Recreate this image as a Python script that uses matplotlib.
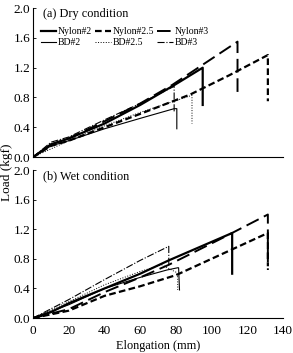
import matplotlib.pyplot as plt
import numpy as np

plt.rcParams['font.family'] = 'serif'
plt.rcParams['font.serif'] = ['Liberation Serif', 'DejaVu Serif']

# (a) dry condition: elongation (mm) and load (kgf)
dry_nylon2_x = [0, 10, 20, 40, 60, 80, 95, 95]
dry_nylon2_y = [0, 0.17, 0.25, 0.45, 0.7, 0.98, 1.2, 0.7]
dry_nylon25_x = [0, 10, 20, 40, 60, 88, 110, 131.5, 131.5]
dry_nylon25_y = [0, 0.15, 0.22, 0.4, 0.58, 0.84, 1.1, 1.37, 0.75]
dry_nylon3_x = [0, 10, 20, 40, 60, 78, 114.5, 114.5]
dry_nylon3_y = [0, 0.17, 0.25, 0.48, 0.72, 0.97, 1.55, 0.85]
dry_bd2_x = [0, 10, 20, 40, 60, 79, 80.5, 80.5]
dry_bd2_y = [0, 0.15, 0.22, 0.38, 0.52, 0.65, 0.65, 0.38]
dry_bd25_x = [0, 20, 40, 60, 89, 89]
dry_bd25_y = [0, 0.22, 0.42, 0.6, 0.83, 0.45]
dry_bd3_x = [0, 10, 20, 40, 60, 79, 79]
dry_bd3_y = [0, 0.2, 0.27, 0.5, 0.72, 0.95, 0.6]

# (b) wet condition
wet_nylon2_x = [0, 10, 20, 40, 60, 76, 111.5, 111.5]
wet_nylon2_y = [0, 0.08, 0.2, 0.4, 0.6, 0.78, 1.15, 0.6]
wet_nylon25_x = [0, 20, 40, 60, 80, 131.5, 131.5]
wet_nylon25_y = [0, 0.1, 0.3, 0.43, 0.58, 1.15, 0.7]
wet_nylon3_x = [0, 20, 40, 60, 76, 105, 131.5, 131.5]
wet_nylon3_y = [0, 0.12, 0.35, 0.55, 0.72, 1.07, 1.4, 0.65]
wet_bd2_x = [0, 20, 40, 60, 75, 81, 81.5, 82]
wet_bd2_y = [0, 0.18, 0.4, 0.55, 0.65, 0.68, 0.68, 0.38]
wet_bd25_x = [0, 20, 40, 60, 72, 80, 81, 81]
wet_bd25_y = [0, 0.22, 0.45, 0.63, 0.72, 0.62, 0.55, 0.38]
wet_bd3_x = [0, 20, 40, 60, 76, 76]
wet_bd3_y = [0, 0.25, 0.52, 0.78, 0.97, 0.72]

labels = ["Nylon#2", "Nylon#2.5", "Nylon#3", "BD#2", "BD#2.5", "BD#3"]
styles = [
    dict(ls='-', lw=1.6),
    dict(ls=(0, (3, 1.5)), lw=1.6),
    dict(ls=(0, (7, 3)), lw=1.4),
    dict(ls='-', lw=0.8),
    dict(ls=':', lw=0.7),
    dict(ls='-.', lw=0.8),
]

dry = [(dry_nylon2_x, dry_nylon2_y), (dry_nylon25_x, dry_nylon25_y), (dry_nylon3_x, dry_nylon3_y),
       (dry_bd2_x, dry_bd2_y), (dry_bd25_x, dry_bd25_y), (dry_bd3_x, dry_bd3_y)]
wet = [(wet_nylon2_x, wet_nylon2_y), (wet_nylon25_x, wet_nylon25_y), (wet_nylon3_x, wet_nylon3_y),
       (wet_bd2_x, wet_bd2_y), (wet_bd25_x, wet_bd25_y), (wet_bd3_x, wet_bd3_y)]

fig = plt.figure(figsize=(2.93, 3.53), dpi=100)
ax1 = fig.add_axes([0.113, 0.555, 0.853, 0.422])
ax2 = fig.add_axes([0.113, 0.099, 0.853, 0.419])

handles = []
for (x, y), st, lab in zip(dry, styles, labels):
    h, = ax1.plot(x, y, color='black', label=lab, **st)
    handles.append(h)
for (x, y), st in zip(wet, styles):
    ax2.plot(x, y, color='black', **st)

yt = np.arange(0, 2.01, 0.4)
for ax, title in [(ax1, "(a) Dry condition"), (ax2, "(b) Wet condition")]:
    ax.set_xlim(0, 140)
    ax.set_ylim(0, 2.0)
    ax.set_yticks(yt)
    ax.set_yticklabels([f"{v:.1f}" for v in yt])
    ax.spines['top'].set_visible(False)
    ax.spines['right'].set_visible(False)
    ax.tick_params(labelsize=9.5, length=2.5, width=0.6, direction='in', pad=2)
    ax.text(0.04, 0.96, title, transform=ax.transAxes, fontsize=8.8, va='center')

ax1.set_xticks(np.arange(0, 141, 20))
ax1.tick_params(axis='x', labelbottom=False, length=0)
ax2.set_xticks(np.arange(0, 141, 20))
ax2.tick_params(axis='x', length=0, pad=5)
ax2.set_xlabel("Elongation (mm)", fontsize=8.8, labelpad=2)

order = [0, 3, 1, 4, 2, 5]
ax1.legend([handles[i] for i in order], [labels[i] for i in order], ncol=3,
           frameon=False, fontsize=7, loc='upper left', bbox_to_anchor=(0.03, 0.87),
           handlelength=1.6, handletextpad=0.2, columnspacing=0.3, labelspacing=0.2,
           borderaxespad=0.0, borderpad=0.0)

fig.text(0.024, 0.513, "Load (kgf)", rotation=90, va='center', ha='center', fontsize=9.5)

fig.savefig("out.png", dpi=100)
